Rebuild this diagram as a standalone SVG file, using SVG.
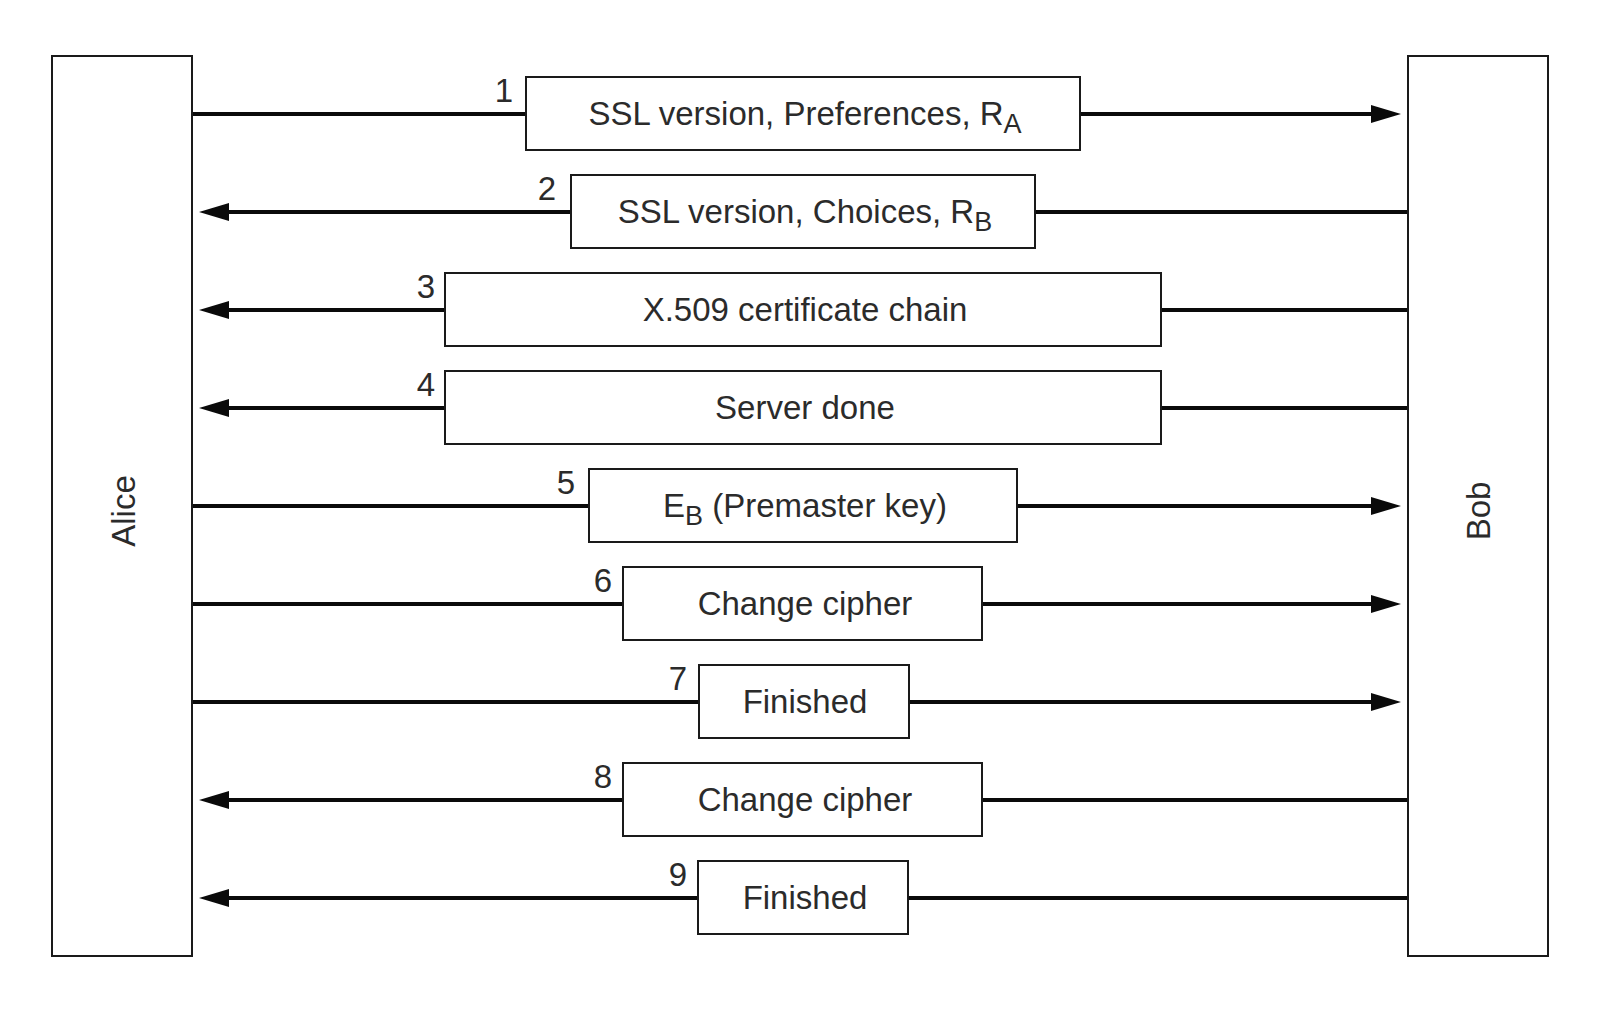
<svg xmlns="http://www.w3.org/2000/svg" width="1600" height="1011" viewBox="0 0 1600 1011">
<defs>
<style>
.party{fill:#fff;stroke:#1a1a1a;stroke-width:2}
.msg{fill:#fff;stroke:#1a1a1a;stroke-width:2}
.conn{stroke:#0a0a0a;stroke-width:4;fill:none}
.lbl{font-family:"Liberation Sans",Arial,Helvetica,sans-serif;font-size:33px;fill:#2b2b2b;text-anchor:middle}
.sub{font-size:27px}
</style>
<marker id="ah" markerUnits="userSpaceOnUse" markerWidth="30" markerHeight="18" viewBox="0 -9 30 18" refX="2" refY="0" orient="auto">
<path d="M0,-9 L30,0 L0,9 z" fill="#0a0a0a"/>
</marker>
</defs>
<rect width="1600" height="1011" fill="#fff"/>
<g id="connectors">
<line class="conn" x1="192" y1="114" x2="1373" y2="114" marker-end="url(#ah)"/>
<line class="conn" x1="1408" y1="212" x2="227" y2="212" marker-end="url(#ah)"/>
<line class="conn" x1="1408" y1="310" x2="227" y2="310" marker-end="url(#ah)"/>
<line class="conn" x1="1408" y1="408" x2="227" y2="408" marker-end="url(#ah)"/>
<line class="conn" x1="192" y1="506" x2="1373" y2="506" marker-end="url(#ah)"/>
<line class="conn" x1="192" y1="604" x2="1373" y2="604" marker-end="url(#ah)"/>
<line class="conn" x1="192" y1="702" x2="1373" y2="702" marker-end="url(#ah)"/>
<line class="conn" x1="1408" y1="800" x2="227" y2="800" marker-end="url(#ah)"/>
<line class="conn" x1="1408" y1="898" x2="227" y2="898" marker-end="url(#ah)"/>
</g>
<g id="alice">
<rect class="party" x="52" y="56" width="140" height="900"/>
<text class="lbl" transform="translate(135,511) rotate(-90)">Alice</text>
</g>
<g id="bob">
<rect class="party" x="1408" y="56" width="140" height="900"/>
<text class="lbl" transform="translate(1490,511) rotate(-90)">Bob</text>
</g>
<g id="msg1">
<rect class="msg" x="526" y="77" width="554" height="73"/>
<text class="lbl" x="504" y="102">1</text>
<text class="lbl" x="805" y="125">SSL version, Preferences, R<tspan class="sub" dy="8">A</tspan></text>
</g>
<g id="msg2">
<rect class="msg" x="571" y="175" width="464" height="73"/>
<text class="lbl" x="547" y="200">2</text>
<text class="lbl" x="805" y="223">SSL version, Choices, R<tspan class="sub" dy="8">B</tspan></text>
</g>
<g id="msg3">
<rect class="msg" x="445" y="273" width="716" height="73"/>
<text class="lbl" x="426" y="298">3</text>
<text class="lbl" x="805" y="321">X.509 certificate chain</text>
</g>
<g id="msg4">
<rect class="msg" x="445" y="371" width="716" height="73"/>
<text class="lbl" x="426" y="396">4</text>
<text class="lbl" x="805" y="419">Server done</text>
</g>
<g id="msg5">
<rect class="msg" x="589" y="469" width="428" height="73"/>
<text class="lbl" x="566" y="494">5</text>
<text class="lbl" x="805" y="517">E<tspan class="sub" dy="8">B</tspan><tspan dy="-8"> (Premaster key)</tspan></text>
</g>
<g id="msg6">
<rect class="msg" x="623" y="567" width="359" height="73"/>
<text class="lbl" x="603" y="592">6</text>
<text class="lbl" x="805" y="615">Change cipher</text>
</g>
<g id="msg7">
<rect class="msg" x="699" y="665" width="210" height="73"/>
<text class="lbl" x="678" y="690">7</text>
<text class="lbl" x="805" y="713">Finished</text>
</g>
<g id="msg8">
<rect class="msg" x="623" y="763" width="359" height="73"/>
<text class="lbl" x="603" y="788">8</text>
<text class="lbl" x="805" y="811">Change cipher</text>
</g>
<g id="msg9">
<rect class="msg" x="698" y="861" width="210" height="73"/>
<text class="lbl" x="678" y="886">9</text>
<text class="lbl" x="805" y="909">Finished</text>
</g>
</svg>
